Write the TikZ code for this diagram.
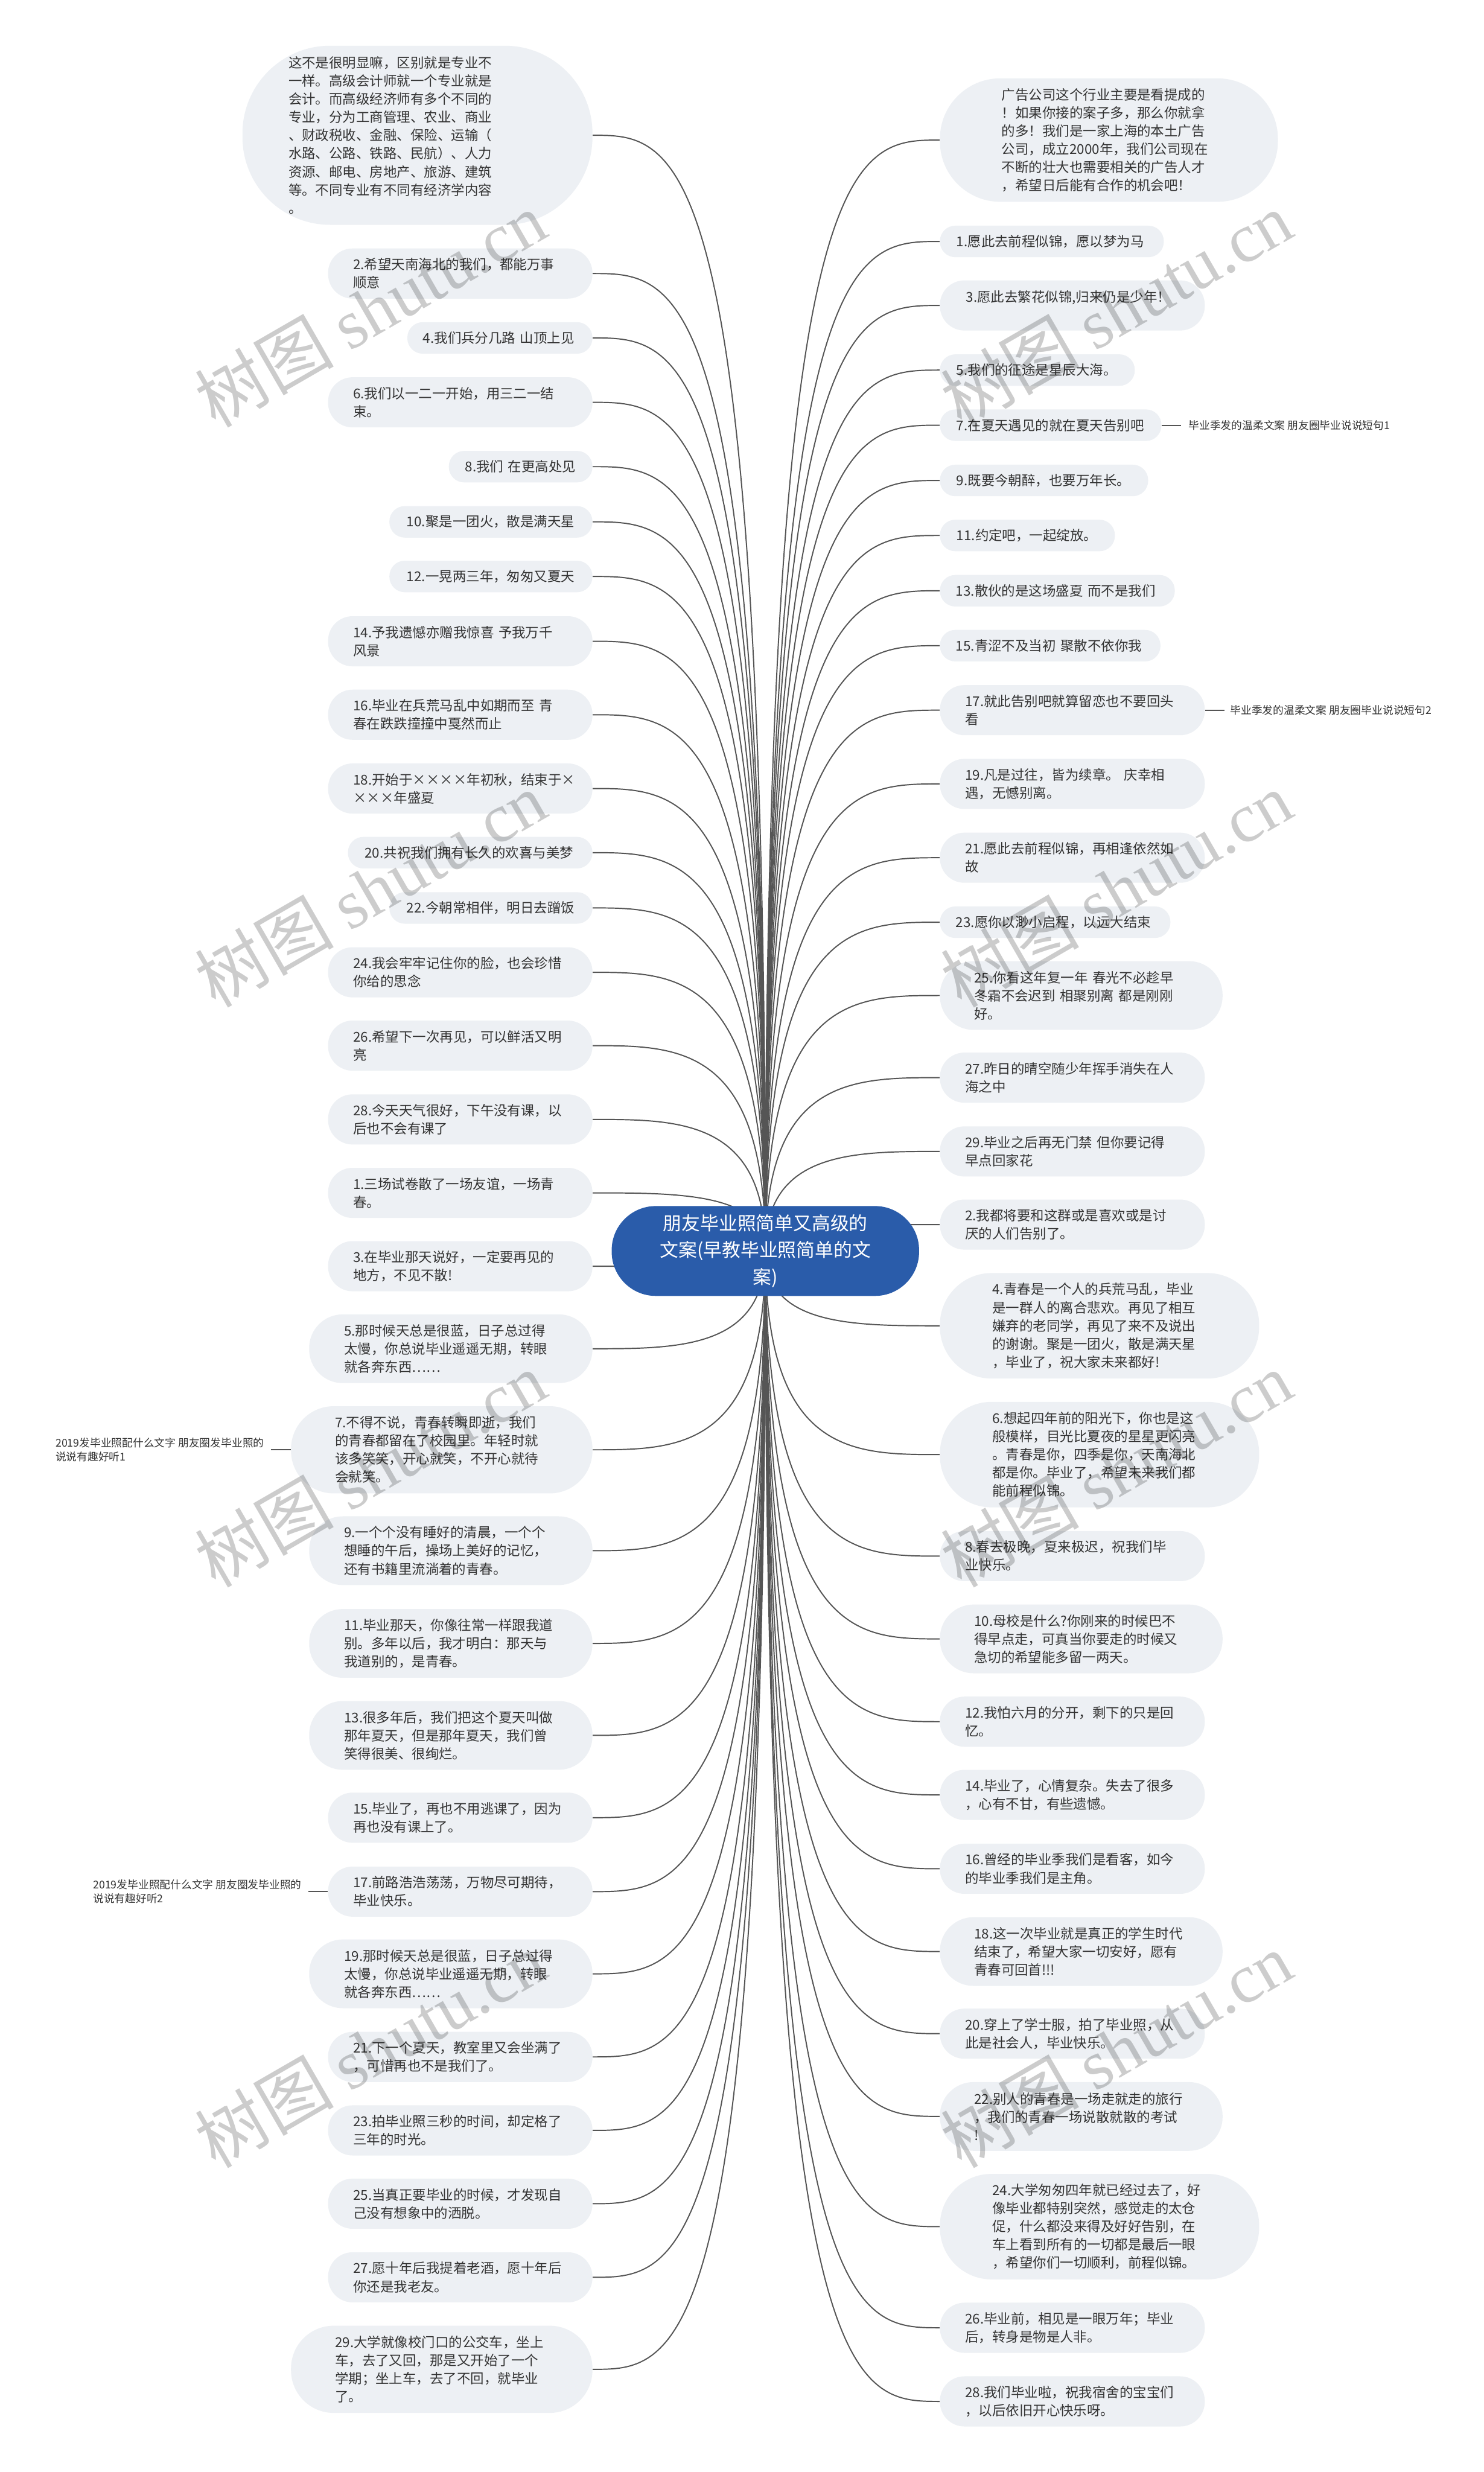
\documentclass[tikz,border=0pt]{standalone}
\usepackage{fontspec}
\setmainfont{Noto Sans CJK SC}
\newfontfamily\wmlat{Liberation Serif}
\usetikzlibrary{calc}
\definecolor{bubfill}{HTML}{EDF0F4}
\definecolor{txt}{HTML}{333333}
\definecolor{rootblue}{HTML}{2A5CAA}
\definecolor{linec}{HTML}{555555}
\pgfdeclarelayer{bgl}
\pgfdeclarelayer{conl}
\pgfsetlayers{bgl,conl,main}
\newcommand\mainfs{\fontsize{8.6pt}{11.5pt}\selectfont}
\newcommand\labfs{\fontsize{6.8pt}{8.8pt}\selectfont}
\newcommand\rootfs{\fontsize{11.8pt}{17pt}\selectfont}
\newcommand\wmfs{\fontsize{44pt}{44pt}\selectfont}
\begin{document}
\begin{tikzpicture}[x=1pt,y=-1pt,
  bub/.style={fill=bubfill, draw=none, text=txt, font=\mainfs, align=left, inner ysep=0pt},
  nb/.style n args={3}{bub, minimum height=#1, rounded corners=0.49*#1, inner xsep=#2, text width=#3},
  lbox/.style n args={3}{nb={#1}{#2}{#3}, anchor=east},
  rbox/.style n args={3}{nb={#1}{#2}{#3}, anchor=west},
  conn/.style={draw=linec, line width=0.75pt},
  lab/.style={text=txt, font=\labfs, align=left, inner ysep=0pt},
  wm/.style={font=\wmfs, text=black, opacity=0.2, rotate=30, inner sep=0pt}
]
\useasboundingbox (0,0) rectangle (941,1568);
\begin{pgfonlayer}{bgl}
\fill[white] (0,0) rectangle (941,1568);
\end{pgfonlayer}

% root
\node[fill=rootblue, text=white, font=\rootfs, align=center, minimum width=195pt, minimum height=57pt, rounded corners=28pt, inner sep=0pt] (root) at (485.5,793.5) {朋友毕业照简单又高级的\\文案(早教毕业照简单的文\\案)};

% left column
\node[lbox={113.6pt}{29.2pt}{163.6pt}] (L0) at (376,85.8) {这不是很明显嘛，区别就是专业不\\一样。高级会计师就一个专业就是\\会计。而高级经济师有多个不同的\\专业，分为工商管理、农业、商业\\、财政税收、金融、保险、运输（\\水路、公路、铁路、民航）、人力\\资源、邮电、房地产、旅游、建筑\\等。不同专业有不同有经济学内容\\。};
\node[lbox={31.8pt}{15.9pt}{135.9pt}] (L2) at (376,173.5) {2.希望天南海北的我们，都能万事\\顺意};
\node[lbox={20pt}{9.9pt}{97.6pt}] (L4) at (376,214.35) {4.我们兵分几路~山顶上见};
\node[lbox={31.8pt}{15.9pt}{135.9pt}] (L6) at (376,255.2) {6.我们以一二一开始，用三二一结\\束。};
\node[lbox={20pt}{10.3pt}{70.5pt}] (L8) at (376,296) {8.我们~在更高处见};
\node[lbox={20pt}{11pt}{106.8pt}] (L10) at (376,331) {10.聚是一团火，散是满天星};
\node[lbox={20pt}{11pt}{106.8pt}] (L12) at (376,365.65) {12.一晃两三年，匆匆又夏天};
\node[lbox={31.8pt}{15.9pt}{135.9pt}] (L14) at (376,406.75) {14.予我遗憾亦赠我惊喜~予我万千\\风景};
\node[lbox={31.8pt}{15.9pt}{135.9pt}] (L16) at (376,453.35) {16.毕业在兵荒马乱中如期而至~青\\春在跌跌撞撞中戛然而止};
\node[lbox={31.8pt}{15.9pt}{135.9pt}] (L18) at (376,500.15) {18.开始于××××年初秋，结束于×\\×××年盛夏};
\node[lbox={20pt}{10.7pt}{133.7pt}] (L20) at (376,540.85) {20.共祝我们拥有长久的欢喜与美梦};
\node[lbox={20pt}{11pt}{106.8pt}] (L22) at (376,575.9) {22.今朝常相伴，明日去蹭饭};
\node[lbox={31.8pt}{15.9pt}{135.9pt}] (L24) at (376,616.75) {24.我会牢牢记住你的脸，也会珍惜\\你给的思念};
\node[lbox={31.8pt}{15.9pt}{135.9pt}] (L26) at (376,663.25) {26.希望下一次再见，可以鲜活又明\\亮};
\node[lbox={31.8pt}{15.9pt}{135.9pt}] (L28) at (376,710.05) {28.今天天气很好，下午没有课，以\\后也不会有课了};
\node[lbox={31.8pt}{15.9pt}{135.9pt}] (L1) at (376,756.65) {1.三场试卷散了一场友谊，一场青\\春。};
\node[lbox={31.8pt}{15.9pt}{135.9pt}] (L3) at (376,803.15) {3.在毕业那天说好，一定要再见的\\地方，不见不散!};
\node[lbox={43.6pt}{22.2pt}{135.3pt}] (L5) at (376,855.5) {5.那时候天总是很蓝，日子总过得\\太慢，你总说毕业遥遥无期，转眼\\就各奔东西……};
\node[lbox={55.3pt}{27.9pt}{135.4pt}] (L7) at (376,919.6) {7.不得不说，青春转瞬即逝，我们\\的青春都留在了校园里。年轻时就\\该多笑笑，开心就笑，不开心就待\\会就笑。};
\node[lbox={43.6pt}{22.2pt}{135.3pt}] (L9) at (376,983.6) {9.一个个没有睡好的清晨，一个个\\想睡的午后，操场上美好的记忆，\\还有书籍里流淌着的青春。};
\node[lbox={43.6pt}{22.2pt}{135.3pt}] (L11) at (376,1042.4) {11.毕业那天，你像往常一样跟我道\\别。多年以后，我才明白：那天与\\我道别的，是青春。};
\node[lbox={43.6pt}{22.2pt}{135.3pt}] (L13) at (376,1100.75) {13.很多年后，我们把这个夏天叫做\\那年夏天，但是那年夏天，我们曾\\笑得很美、很绚烂。};
\node[lbox={31.8pt}{15.9pt}{135.9pt}] (L15) at (376,1152.95) {15.毕业了，再也不用逃课了，因为\\再也没有课上了。};
\node[lbox={31.8pt}{15.9pt}{135.9pt}] (L17) at (376,1199.85) {17.前路浩浩荡荡，万物尽可期待，\\毕业快乐。};
\node[lbox={43.6pt}{22.2pt}{135.3pt}] (L19) at (376,1252) {19.那时候天总是很蓝，日子总过得\\太慢，你总说毕业遥遥无期，转眼\\就各奔东西……};
\node[lbox={31.8pt}{15.9pt}{135.9pt}] (L21) at (376,1304.7) {21.下一个夏天，教室里又会坐满了\\，可惜再也不是我们了。};
\node[lbox={31.8pt}{15.9pt}{135.9pt}] (L23) at (376,1351.3) {23.拍毕业照三秒的时间，却定格了\\三年的时光。};
\node[lbox={31.8pt}{15.9pt}{135.9pt}] (L25) at (376,1397.8) {25.当真正要毕业的时候，才发现自\\己没有想象中的洒脱。};
\node[lbox={31.8pt}{15.9pt}{135.9pt}] (L27) at (376,1444.5) {27.愿十年后我提着老酒，愿十年后\\你还是我老友。};
\node[lbox={55.3pt}{27.9pt}{135.4pt}] (L29) at (376,1502.85) {29.大学就像校门口的公交车，坐上\\车，去了又回，那是又开始了一个\\学期；坐上车，去了不回，就毕业\\了。};

% right column
\node[rbox={78.3pt}{39.2pt}{136pt}] (R0) at (596,88.85) {广告公司这个行业主要是看提成的\\！如果你接的案子多，那么你就拿\\的多！我们是一家上海的本土广告\\公司，成立2000年，我们公司现在\\不断的壮大也需要相关的广告人才\\，希望日后能有合作的机会吧！};
\node[rbox={20pt}{10.5pt}{121pt}] (R1) at (596,153.15) {1.愿此去前程似锦，愿以梦为马};
\node[rbox={31.8pt}{16.5pt}{135pt}] (R3) at (596,193.75) {3.愿此去繁花似锦,归来仍是少年！\\\mbox{}};
\node[rbox={20pt}{10.5pt}{102.6pt}] (R5) at (596,234.75) {5.我们的征途是星辰大海。};
\node[rbox={20pt}{10.5pt}{119.5pt}] (R7) at (596,269.7) {7.在夏天遇见的就在夏天告别吧};
\node[rbox={20pt}{10.5pt}{111.1pt}] (R9) at (596,304.75) {9.既要今朝醉，也要万年长。};
\node[rbox={20pt}{10.5pt}{90pt}] (R11) at (596,339.65) {11.约定吧，一起绽放。};
\node[rbox={20pt}{10.1pt}{128.8pt}] (R13) at (596,374.7) {13.散伙的是这场盛夏~而不是我们};
\node[rbox={20pt}{10.1pt}{119.7pt}] (R15) at (596,409.55) {15.青涩不及当初~聚散不依你我};
\node[rbox={31.8pt}{16pt}{136pt}] (R17) at (596,450.45) {17.就此告别吧就算留恋也不要回头\\看};
\node[rbox={31.8pt}{16pt}{136pt}] (R19) at (596,497.25) {19.凡是过往，皆为续章。~庆幸相\\遇，无憾别离。};
\node[rbox={31.8pt}{16pt}{136pt}] (R21) at (596,544.05) {21.愿此去前程似锦，再相逢依然如\\故};
\node[rbox={20pt}{10.1pt}{126pt}] (R23) at (596,584.95) {23.愿你以渺小启程，以远大结束};
\node[rbox={43.6pt}{21.7pt}{135.9pt}] (R25) at (596,631.45) {25.你看这年复一年~春光不必趁早\\冬霜不会迟到~相聚别离~都是刚刚\\好。};
\node[rbox={31.8pt}{16pt}{136pt}] (R27) at (596,683.55) {27.昨日的晴空随少年挥手消失在人\\海之中};
\node[rbox={31.8pt}{16pt}{136pt}] (R29) at (596,730.35) {29.毕业之后再无门禁~但你要记得\\早点回家花};
\node[rbox={31.8pt}{16pt}{136pt}] (R2) at (596,776.75) {2.我都将要和这群或是喜欢或是讨\\厌的人们告别了。};
\node[rbox={66.9pt}{33.3pt}{135.9pt}] (R4) at (596,840.95) {4.青春是一个人的兵荒马乱，毕业\\是一群人的离合悲欢。再见了相互\\嫌弃的老同学，再见了来不及说出\\的谢谢。聚是一团火，散是满天星\\，毕业了，祝大家未来都好!};
\node[rbox={66.9pt}{33.3pt}{135.9pt}] (R6) at (596,922.65) {6.想起四年前的阳光下，你也是这\\般模样，目光比夏夜的星星更闪亮\\。青春是你，四季是你，天南海北\\都是你。毕业了，希望未来我们都\\能前程似锦。};
\node[rbox={31.8pt}{16pt}{136pt}] (R8) at (596,987.05) {8.春去极晚，夏来极迟，祝我们毕\\业快乐。};
\node[rbox={43.6pt}{21.7pt}{135.9pt}] (R10) at (596,1039.55) {10.母校是什么?你刚来的时候巴不\\得早点走，可真当你要走的时候又\\急切的希望能多留一两天。};
\node[rbox={31.8pt}{16pt}{136pt}] (R12) at (596,1092.05) {12.我怕六月的分开，剩下的只是回\\忆。};
\node[rbox={31.8pt}{16pt}{136pt}] (R14) at (596,1138.5) {14.毕业了，心情复杂。失去了很多\\，心有不甘，有些遗憾。};
\node[rbox={31.8pt}{16pt}{136pt}] (R16) at (596,1185.35) {16.曾经的毕业季我们是看客，如今\\的毕业季我们是主角。};
\node[rbox={43.6pt}{21.7pt}{135.9pt}] (R18) at (596,1237.85) {18.这一次毕业就是真正的学生时代\\结束了，希望大家一切安好，愿有\\青春可回首!!!};
\node[rbox={31.8pt}{16pt}{136pt}] (R20) at (596,1289.95) {20.穿上了学士服，拍了毕业照，从\\此是社会人，毕业快乐。};
\node[rbox={43.6pt}{21.7pt}{135.9pt}] (R22) at (596,1342.45) {22.别人的青春是一场走就走的旅行\\，我们的青春一场说散就散的考试\\!};
\node[rbox={66.9pt}{33.3pt}{135.9pt}] (R24) at (596,1412.35) {24.大学匆匆四年就已经过去了，好\\像毕业都特别突然，感觉走的太仓\\促，什么都没来得及好好告别，在\\车上看到所有的一切都是最后一眼\\，希望你们一切顺利，前程似锦。};
\node[rbox={31.8pt}{16pt}{136pt}] (R26) at (596,1476.5) {26.毕业前，相见是一眼万年；毕业\\后，转身是物是人非。};
\node[rbox={31.8pt}{16pt}{136pt}] (R28) at (596,1523.2) {28.我们毕业啦，祝我宿舍的宝宝们\\，以后依旧开心快乐呀。};

% side labels
\node[lab, anchor=west, inner xsep=4.8pt] (RL1) at (749,269.7) {毕业季发的温柔文案~朋友圈毕业说说短句1};
\node[lab, anchor=west, inner xsep=3.6pt] (RL2) at (776.6,450.45) {毕业季发的温柔文案~朋友圈毕业说说短句2};
\node[lab, anchor=east, inner xsep=4pt] (LL1) at (171.7,919.6) {2019发毕业照配什么文字~朋友圈发毕业照的\\说说有趣好听1};
\node[lab, anchor=east, inner xsep=4pt] (LL2) at (195.5,1199.85) {2019发毕业照配什么文字~朋友圈发毕业照的\\说说有趣好听2};

% connectors
\begin{pgfonlayer}{conl}
\foreach \n in {L0,L2,L4,L6,L8,L10,L12,L14,L16,L18,L20,L22,L24,L26,L28,L1,L3,L5,L7,L9,L11,L13,L15,L17,L19,L21,L23,L25,L27,L29}
  \draw[conn] (root.center) .. controls (root.center |- \n.east) and ($(root.center |- \n.east)!0.5!(\n.east)$) .. (\n.east);
\foreach \n in {R0,R1,R3,R5,R7,R9,R11,R13,R15,R17,R19,R21,R23,R25,R27,R29,R2,R4,R6,R8,R10,R12,R14,R16,R18,R20,R22,R24,R26,R28}
  \draw[conn] (root.center) .. controls (root.center |- \n.west) and ($(root.center |- \n.west)!0.5!(\n.west)$) .. (\n.west);
\end{pgfonlayer}
\draw[conn] (R7.east) -- (RL1.west);
\draw[conn] (R17.east) -- (RL2.west);
\draw[conn] (LL1.east) -- (L7.west);
\draw[conn] (LL2.east) -- (L17.west);

% watermarks
\foreach \wy in {196,564,932,1300}
  \foreach \wx in {235,708}
    \node[wm] (wm-\wx-\wy) at (\wx,\wy) {树图 {\wmlat shutu.cn}};
\end{tikzpicture}
\end{document}
